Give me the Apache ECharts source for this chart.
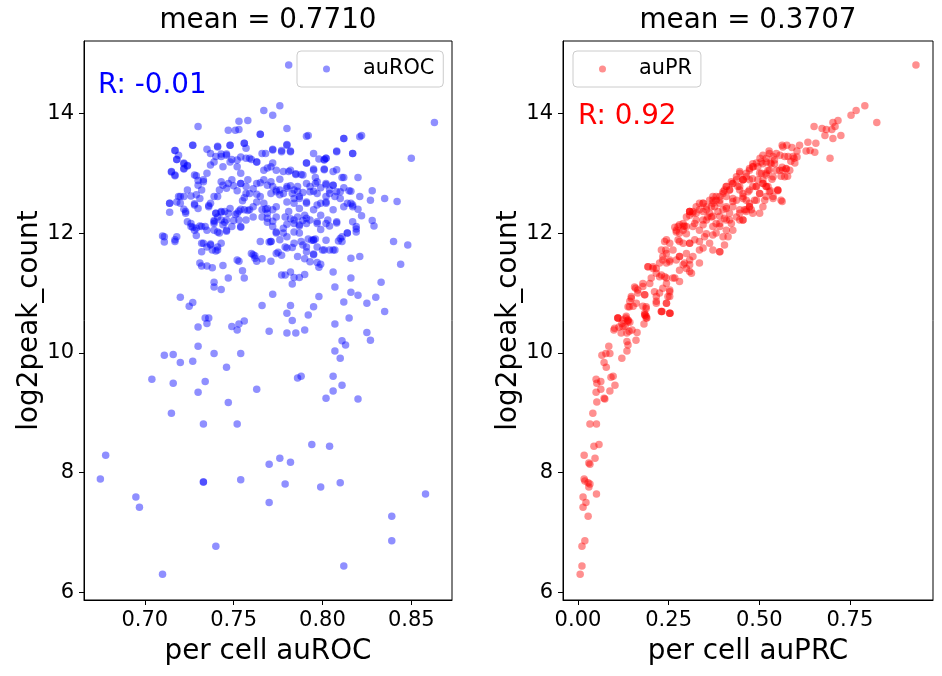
<!DOCTYPE html>
<html>
<head>
<meta charset="utf-8">
<title>auROC / auPR vs log2peak_count</title>
<script src="https://cdn.jsdelivr.net/npm/echarts@6/dist/echarts.min.js"></script>
<style>
  html, body { margin: 0; padding: 0; background: #fff; }
  #mainChart { width: 942px; height: 676px; }
</style>
</head>
<body>
<div id="mainChart"></div>
<script>
var seriesNames = ['auROC', 'auPR'];
var meanLabels = ['mean = 0.7710', 'mean = 0.3707'];
var rLabels = ['R: -0.01', 'R: 0.92'];
var xAxisNames = ['per cell auROC', 'per cell auPRC'];
var yAxisName = 'log2peak_count';

var rocTicks = [0.70, 0.75, 0.80, 0.85];
var prTicks = [0.00, 0.25, 0.50, 0.75];
var yTicks = [6, 8, 10, 12, 14];

// [auROC, log2peak_count]
var rocData = [
  [0.781,14.81],[0.863,13.85],[0.850,13.25],[0.776,14.13],[0.767,14.05],[0.772,13.97],[0.758,13.88],[0.753,13.87],
  [0.730,13.78],[0.747,13.72],[0.751,13.72],[0.753,13.73],[0.765,13.65],[0.780,13.75],[0.792,13.63],[0.812,13.58],
  [0.822,13.63],[0.727,13.47],[0.741,13.45],[0.756,13.50],[0.780,13.48],[0.717,13.38],[0.718,13.23],[0.715,13.02],
  [0.717,12.96],[0.722,13.17],[0.722,13.08],[0.724,13.13],[0.729,12.96],[0.730,12.88],[0.733,12.86],[0.735,13.40],
  [0.737,13.33],[0.740,13.28],[0.743,13.32],[0.746,13.32],[0.748,13.47],[0.749,13.23],[0.752,13.22],[0.754,13.27],
  [0.757,13.25],[0.760,13.23],[0.763,13.19],[0.766,13.33],[0.769,13.09],[0.772,13.40],[0.772,13.17],[0.777,13.36],
  [0.782,13.37],[0.776,12.90],[0.778,13.03],[0.782,13.05],[0.785,12.98],[0.788,12.98],[0.791,13.17],[0.795,13.07],
  [0.798,13.24],[0.801,13.22],[0.802,13.25],[0.808,13.37],[0.817,13.33],[0.801,13.07],[0.808,13.06],[0.812,12.93],
  [0.820,12.93],[0.796,12.93],[0.796,12.83],[0.799,12.76],[0.802,12.81],[0.806,12.80],[0.808,12.69],[0.812,12.76],
  [0.816,12.70],[0.821,12.61],[0.828,12.71],[0.835,12.58],[0.842,12.53],[0.827,12.55],[0.828,12.21],[0.829,12.12],
  [0.840,11.86],[0.848,11.80],[0.844,11.48],[0.833,11.18],[0.830,10.93],[0.825,10.83],[0.820,10.96],[0.816,11.01],
  [0.816,11.25],[0.812,10.85],[0.807,11.10],[0.806,11.35],[0.799,11.48],[0.798,11.43],[0.797,11.51],[0.793,11.52],
  [0.795,11.65],[0.790,11.57],[0.791,11.77],[0.792,11.90],[0.794,11.88],[0.796,11.90],[0.788,11.86],[0.787,12.00],
  [0.784,12.02],[0.783,11.76],[0.779,11.77],[0.777,11.63],[0.775,11.68],[0.771,11.86],[0.770,11.85],[0.771,11.53],
  [0.769,12.18],[0.772,12.20],[0.774,12.00],[0.776,11.89],[0.778,12.00],[0.780,12.15],[0.768,12.40],[0.767,12.50],
  [0.766,12.39],[0.761,12.44],[0.758,12.38],[0.754,12.40],[0.755,12.54],[0.753,12.37],[0.751,12.31],[0.747,12.33],
  [0.745,12.36],[0.743,12.35],[0.740,12.33],[0.739,12.21],[0.739,12.16],[0.739,12.05],[0.742,12.00],[0.746,12.03],
  [0.745,12.18],[0.746,12.22],[0.750,12.21],[0.754,12.10],[0.756,12.59],[0.757,12.66],[0.759,12.66],[0.763,12.65],
  [0.761,12.74],[0.765,12.84],[0.767,12.89],[0.771,12.86],[0.772,12.78],[0.774,12.69],[0.776,12.72],[0.778,12.66],
  [0.780,12.78],[0.782,12.79],[0.784,12.72],[0.786,12.70],[0.789,12.68],[0.793,12.78],[0.795,12.70],[0.797,12.66],
  [0.799,12.50],[0.802,12.50],[0.802,12.61],[0.804,12.72],[0.807,12.61],[0.810,12.58],[0.814,12.50],[0.816,12.50],
  [0.817,12.44],[0.820,12.40],[0.822,12.29],[0.819,12.11],[0.819,12.07],[0.814,12.00],[0.811,11.94],[0.809,11.87],
  [0.807,11.72],[0.804,11.72],[0.800,11.72],[0.797,11.77],[0.795,11.89],[0.790,12.30],[0.789,12.21],[0.791,12.16],
  [0.786,12.27],[0.782,12.24],[0.781,12.36],[0.784,12.50],[0.787,12.58],[0.791,12.52],[0.795,12.39],[0.799,12.30],
  [0.803,12.22],[0.808,12.17],[0.804,12.12],[0.799,12.06],[0.797,12.16],[0.793,12.22],[0.787,12.12],[0.784,12.16],
  [0.779,12.27],[0.774,12.27],[0.772,12.39],[0.769,12.33],[0.766,12.27],[0.761,12.27],[0.757,12.22],[0.753,12.22],
  [0.749,12.11],[0.744,12.14],[0.741,12.27],[0.737,12.50],[0.739,12.61],[0.742,12.72],[0.744,12.80],[0.747,12.83],
  [0.750,12.79],[0.752,12.71],[0.754,12.83],[0.757,12.78],[0.741,12.61],[0.736,12.46],[0.730,12.41],[0.728,12.49],
  [0.726,12.62],[0.722,12.61],[0.719,12.61],[0.720,12.50],[0.714,12.50],[0.714,12.35],[0.722,12.40],[0.723,12.33],
  [0.724,12.19],[0.726,12.16],[0.727,12.10],[0.728,12.05],[0.729,11.96],[0.731,12.12],[0.734,12.11],[0.735,12.05],
  [0.733,11.83],[0.735,11.77],[0.737,11.82],[0.738,11.72],[0.740,11.70],[0.741,11.77],[0.743,11.83],[0.732,11.45],
  [0.735,11.45],[0.738,11.42],[0.744,11.46],[0.747,11.25],[0.753,11.53],[0.755,11.37],[0.756,11.25],[0.760,11.66],
  [0.762,11.62],[0.763,11.53],[0.766,11.57],[0.777,11.30],[0.779,11.30],[0.782,11.35],[0.784,11.26],[0.787,11.26],
  [0.790,11.31],[0.783,11.15],[0.772,10.98],[0.766,10.79],[0.782,10.79],[0.798,10.94],[0.795,10.77],[0.739,11.18],
  [0.739,11.10],[0.743,11.06],[0.720,10.93],[0.725,10.78],[0.727,10.84],[0.710,11.95],[0.711,11.85],[0.717,11.86],
  [0.718,11.94],
  [0.727,13.47],[0.717,13.38],[0.719,13.30],[0.718,13.23],[0.722,13.16],[0.724,13.12],[0.722,13.07],[0.715,13.03],
  [0.717,12.97],[0.728,12.97],[0.735,13.00],[0.737,13.14],[0.739,13.19],[0.741,13.44],[0.748,13.47],[0.746,13.30],
  [0.743,13.28],[0.744,13.11],[0.748,13.19],[0.752,13.11],[0.754,13.00],[0.756,13.50],[0.757,13.42],[0.759,13.25],
  [0.763,13.19],[0.765,13.65],[0.768,13.33],[0.772,13.39],[0.780,13.47],[0.782,13.36],[0.777,13.38],[0.767,13.05],
  [0.771,13.11],[0.774,13.05],[0.781,13.03],[0.785,12.99],[0.789,12.97],[0.791,13.17],[0.795,13.33],[0.801,13.23],
  [0.802,13.25],[0.808,13.36],[0.817,13.33],[0.812,13.58],[0.791,13.62],[0.821,13.61],[0.795,13.05],[0.801,13.06],
  [0.806,13.03],[0.811,12.93],[0.806,12.80],[0.802,12.83],[0.797,12.86],[0.791,12.83],[0.786,12.78],[0.780,12.75],
  [0.774,12.72],[0.769,12.80],[0.763,12.83],[0.758,12.89],[0.754,12.83],[0.749,12.89],[0.746,12.75],[0.743,12.86],
  [0.733,12.89],[0.730,12.80],[0.732,12.72],[0.729,12.64],[0.724,12.72],[0.720,12.61],[0.765,12.61],[0.771,12.66],
  [0.776,12.64],[0.783,12.66],[0.787,12.61],[0.793,12.69],[0.804,12.66],[0.810,12.69],[0.815,12.71],
  [0.714,12.50],[0.718,12.52],[0.723,12.36],[0.728,12.47],[0.731,12.58],[0.736,12.44],[0.740,12.33],[0.743,12.36],
  [0.748,12.41],[0.752,12.33],[0.756,12.39],[0.759,12.39],[0.763,12.52],[0.769,12.41],[0.774,12.44],[0.780,12.52],
  [0.784,12.58],[0.787,12.41],[0.791,12.50],[0.797,12.47],[0.802,12.52],[0.806,12.39],[0.812,12.44],[0.817,12.47],
  [0.726,12.11],[0.729,12.08],[0.732,12.11],[0.739,12.19],[0.743,12.22],[0.741,12.02],[0.746,12.05],[0.754,12.11],
  [0.769,12.25],[0.772,12.11],[0.778,12.08],[0.784,12.22],[0.787,12.14],[0.791,12.25],[0.797,12.19],[0.802,12.16],
  [0.808,12.19],[0.817,12.19],[0.819,12.02],[0.814,12.00],[0.810,11.91],[0.802,11.88],[0.795,11.88],[0.789,11.80],
  [0.784,11.83],[0.780,11.94],[0.774,12.02],[0.771,11.86],[0.765,11.86],[0.711,11.94],[0.717,11.89],[0.732,11.83],
  [0.737,11.80],[0.741,11.72],[0.732,11.69],[0.761,11.64],[0.762,11.58],[0.774,11.66],[0.780,11.75],[0.786,11.61],
  [0.791,11.69],[0.795,11.64],[0.801,11.72],[0.806,11.72],[0.811,11.86],[0.816,11.58],[0.821,11.61],[0.752,11.55],
  [0.731,11.50],
  [0.835,10.69],[0.815,10.58],[0.807,10.48],[0.792,10.63],[0.780,10.66],[0.783,10.54],[0.770,10.36],[0.780,10.33],
  [0.785,10.33],[0.790,10.38],[0.756,10.53],[0.753,10.48],[0.752,10.38],[0.749,10.44],[0.734,10.58],[0.736,10.58],
  [0.735,10.49],[0.730,10.43],[0.730,10.11],[0.711,9.96],[0.716,9.97],[0.720,9.84],[0.727,9.86],[0.739,9.99],
  [0.754,9.99],[0.746,9.76],[0.825,10.34],[0.827,10.21],[0.811,10.20],[0.813,10.13],[0.807,10.03],[0.810,9.91],
  [0.704,9.56],[0.716,9.49],[0.734,9.52],[0.730,9.34],[0.763,9.39],[0.747,9.17],[0.715,8.99],[0.733,8.81],
  [0.752,8.81],[0.786,9.58],[0.788,9.61],[0.806,9.61],[0.811,9.46],[0.806,9.36],[0.802,9.24],[0.820,9.23],
  [0.794,8.47],[0.804,8.44],[0.776,8.24],[0.782,8.17],[0.770,8.14],[0.678,8.29],[0.675,7.89],[0.733,7.84],
  [0.733,7.84],[0.754,7.88],[0.779,7.81],[0.799,7.76],[0.810,7.83],[0.858,7.64],[0.695,7.59],[0.697,7.42],
  [0.770,7.50],[0.839,7.27],[0.839,6.86],[0.740,6.77],[0.812,6.44],[0.710,6.30]
];

// [auPRC, log2peak_count]
var prData = [
  [0.932,14.81],[0.791,14.13],[0.767,14.05],[0.753,13.97],[0.824,13.85],[0.717,13.88],[0.703,13.85],[0.709,13.78],
  [0.700,13.73],[0.685,13.73],[0.673,13.75],[0.651,13.78],[0.681,13.63],[0.725,13.63],[0.703,13.58],[0.695,13.25],
  [0.656,13.50],[0.653,13.35],[0.640,13.38],[0.629,13.37],[0.634,13.52],[0.611,13.47],[0.604,13.37],[0.590,13.43],
  [0.576,13.47],[0.563,13.47],[0.596,13.25],[0.604,13.27],[0.598,13.17],[0.587,13.20],[0.579,13.28],[0.557,13.30],
  [0.563,13.10],[0.574,13.07],[0.578,12.95],[0.560,12.95],[0.551,12.71],[0.531,12.71],[0.538,12.61],[0.563,12.53],
  [0.527,13.37],[0.510,13.30],[0.502,13.25],[0.519,13.19],[0.530,13.17],[0.542,13.22],[0.547,13.05],[0.519,13.00],
  [0.506,13.00],[0.492,13.17],[0.483,13.11],[0.473,13.05],[0.464,12.94],[0.481,12.91],[0.496,12.89],[0.510,12.83],
  [0.524,12.78],[0.535,12.90],[0.501,12.66],[0.492,12.55],[0.473,12.50],[0.455,12.58],[0.446,12.78],[0.455,12.89],
  [0.437,12.94],[0.427,12.83],[0.418,12.72],[0.409,12.78],[0.400,12.66],[0.391,12.50],[0.381,12.61],[0.372,12.55],
  [0.368,12.44],[0.386,12.36],[0.409,12.44],[0.427,12.53],[0.446,12.39],[0.464,12.36],[0.478,12.39],[0.455,12.22],
  [0.437,12.27],[0.423,12.16],[0.404,12.25],[0.391,12.11],[0.409,12.05],[0.400,11.94],[0.381,12.00],[0.372,12.11],
  [0.358,12.27],[0.345,12.36],[0.335,12.50],[0.317,12.36],[0.308,12.30],[0.322,12.16],[0.335,12.05],[0.349,11.94],
  [0.363,11.83],[0.372,11.72],[0.391,11.69],[0.414,11.94],[0.427,12.05],[0.299,12.11],[0.290,12.05],[0.280,12.00],
  [0.271,12.05],[0.276,11.89],[0.290,11.83],[0.308,11.83],[0.322,11.89],[0.335,11.72],[0.345,11.75],[0.262,11.72],
  [0.271,11.55],[0.280,11.61],[0.294,11.50],[0.308,11.55],[0.313,11.33],[0.299,11.41],[0.244,11.89],[0.242,11.72],
  [0.234,11.61],[0.244,11.50],[0.253,11.55],[0.225,11.50],[0.216,11.41],[0.207,11.44],[0.193,11.44],[0.225,11.27],
  [0.239,11.27],[0.244,11.16],[0.267,11.25],[0.253,11.05],[0.253,10.94],[0.234,11.08],[0.225,11.00],[0.216,10.83],
  [0.244,10.83],[0.230,10.69],[0.253,10.66],[0.198,11.16],[0.179,11.11],[0.159,11.08],[0.165,11.00],[0.184,10.97],
  [0.188,10.77],[0.184,10.66],[0.188,10.61],[0.161,10.83],[0.142,10.77],[0.147,10.91],[0.133,10.61],[0.110,10.58],
  [0.138,10.55],
  [0.593,13.28],[0.584,13.05],[0.565,13.05],[0.570,12.94],[0.551,12.72],[0.538,12.58],[0.528,12.69],[0.519,12.78],
  [0.515,12.55],[0.501,12.66],[0.510,12.89],[0.519,12.97],[0.528,13.05],[0.533,13.16],[0.538,13.28],[0.547,13.33],
  [0.519,13.25],[0.510,13.16],[0.496,13.11],[0.482,13.16],[0.473,13.08],[0.464,13.00],[0.455,12.89],[0.446,13.03],
  [0.437,12.89],[0.427,12.83],[0.418,12.72],[0.409,12.61],[0.400,12.69],[0.391,12.61],[0.381,12.55],[0.372,12.50],
  [0.363,12.55],[0.354,12.44],[0.345,12.50],[0.335,12.39],[0.326,12.44],[0.317,12.33],[0.308,12.36],[0.299,12.27],
  [0.290,12.16],[0.276,12.11],[0.446,12.72],[0.455,12.66],[0.464,12.55],[0.473,12.44],[0.482,12.33],[0.492,12.78],
  [0.473,12.72],[0.437,12.55],[0.427,12.44],[0.418,12.33],[0.409,12.22],[0.400,12.39],[0.391,12.28],[0.381,12.16],
  [0.372,12.28],[0.363,12.33],[0.354,12.22],[0.345,12.14],[0.446,12.33],[0.455,12.22],[0.464,12.39],
  [0.267,12.10],[0.280,12.14],[0.294,12.12],[0.308,12.36],[0.326,12.22],[0.345,12.50],[0.354,12.39],[0.368,12.27],
  [0.377,12.44],[0.372,12.61],[0.391,12.55],[0.404,12.72],[0.409,12.41],[0.418,12.22],[0.427,12.58],[0.423,12.86],
  [0.441,12.78],[0.446,13.00],[0.455,12.61],[0.459,12.39],[0.469,12.69],[0.473,12.89],[0.482,13.11],[0.487,12.55],
  [0.491,12.78],[0.501,13.00],[0.505,13.19],[0.510,12.83],[0.519,12.61],[0.524,13.05],[0.528,13.33],[0.538,12.94],
  [0.542,13.16],[0.551,12.72],[0.556,13.05],[0.560,12.55],[0.565,13.44],[0.570,13.28],[0.574,13.08],[0.501,12.33],
  [0.446,12.22],[0.391,12.16],[0.345,12.22],[0.317,12.11],[0.473,12.44],[0.510,12.44],[0.409,12.78],[0.455,12.89],
  [0.482,12.78],[0.519,12.78],
  [0.308,12.36],[0.326,12.33],[0.290,12.11],[0.271,12.02],[0.299,11.99],[0.280,11.86],[0.308,11.83],[0.335,11.86],
  [0.354,11.99],[0.372,11.97],[0.391,11.69],[0.404,11.80],[0.239,11.86],[0.253,11.83],[0.230,11.72],[0.244,11.66],
  [0.234,11.55],[0.253,11.52],[0.280,11.61],[0.299,11.66],[0.317,11.61],[0.290,11.47],[0.308,11.47],[0.335,11.50],
  [0.308,11.36],[0.280,11.38],[0.193,11.44],[0.207,11.41],[0.216,11.33],[0.202,11.25],[0.230,11.30],[0.244,11.25],
  [0.262,11.25],[0.280,11.19],[0.179,11.16],[0.156,11.10],[0.165,11.05],[0.184,10.97],[0.211,11.02],[0.216,10.94],
  [0.248,10.94],[0.253,11.02],[0.147,10.94],[0.143,10.86],[0.138,10.77],[0.152,10.78],[0.179,10.78],[0.188,10.74],
  [0.216,10.86],[0.244,10.83],[0.230,10.69],[0.253,10.66],[0.184,10.63],[0.188,10.58],[0.110,10.58],[0.124,10.55],
  [0.138,10.52],[0.124,10.44],[0.101,10.41],
  [0.232,10.69],[0.254,10.66],[0.185,10.63],[0.190,10.58],[0.182,10.48],[0.163,10.34],[0.160,10.21],[0.110,10.58],
  [0.121,10.49],[0.132,10.58],[0.138,10.54],[0.143,10.51],[0.130,10.44],[0.119,10.33],[0.099,10.38],[0.113,10.43],
  [0.135,10.33],[0.141,10.36],[0.149,10.38],[0.135,10.19],[0.138,10.13],[0.135,10.03],[0.085,10.11],[0.088,9.99],
  [0.077,9.99],[0.066,9.96],[0.072,9.84],[0.078,9.76],[0.121,9.91],[0.050,9.56],[0.052,9.49],[0.063,9.52],
  [0.050,9.34],[0.063,9.39],[0.088,9.36],[0.091,9.59],[0.097,9.61],[0.102,9.46],[0.072,9.24],[0.074,9.23],
  [0.052,9.18],[0.041,8.99],[0.033,8.81],[0.051,8.81],[0.044,8.44],[0.058,8.47],[0.017,8.29],[0.047,8.24],
  [0.030,8.16],[0.033,8.14],[0.017,7.89],[0.019,7.86],[0.028,7.83],[0.033,7.81],[0.030,7.76],[0.051,7.64],
  [0.014,7.59],[0.022,7.50],[0.014,7.42],[0.028,7.27],[0.019,6.86],[0.011,6.77],[0.011,6.44],[0.006,6.30]
];

var FONT = 'DejaVu Sans';

function xAxisFor(gridIndex, name, ticks, min, max) {
  return {
    type: 'value',
    gridIndex: gridIndex,
    min: min,
    max: max,
    name: name,
    nameLocation: 'middle',
    nameGap: 38,
    nameTextStyle: { fontFamily: FONT, fontSize: 27.8, color: '#000' },
    axisLine: { show: true, onZero: false, lineStyle: { color: '#000', width: 1 } },
    axisTick: { show: true, length: 5, customValues: ticks, lineStyle: { color: '#000', width: 1 } },
    axisLabel: {
      customValues: ticks,
      margin: 10,
      fontFamily: FONT,
      fontSize: 21,
      color: '#000',
      formatter: function (v) { return v.toFixed(2); }
    },
    splitLine: { show: false }
  };
}

function yAxisFor(gridIndex) {
  return {
    type: 'value',
    gridIndex: gridIndex,
    min: 5.87,
    max: 15.21,
    name: yAxisName,
    nameLocation: 'middle',
    nameGap: 37,
    nameTextStyle: { fontFamily: FONT, fontSize: 27.8, color: '#000' },
    axisLine: { show: true, onZero: false, lineStyle: { color: '#000', width: 1 } },
    axisTick: { show: true, length: 5, customValues: yTicks, lineStyle: { color: '#000', width: 1 } },
    axisLabel: {
      customValues: yTicks,
      margin: 10,
      fontFamily: FONT,
      fontSize: 21,
      color: '#000',
      formatter: function (v) { return String(v); }
    },
    splitLine: { show: false }
  };
}

function legendFor(name, left) {
  return {
    data: [name],
    left: left,
    top: 51,
    orient: 'vertical',
    selectedMode: false,
    padding: [7, 9, 7, 26],
    itemWidth: 7,
    itemHeight: 7,
    backgroundColor: 'rgba(255,255,255,0.8)',
    borderColor: '#cccccc',
    borderWidth: 1,
    borderRadius: 4,
    formatter: function (n) { return '{gap|}' + n; },
    textStyle: {
      fontFamily: FONT, fontSize: 20.8, lineHeight: 22, color: '#000',
      rich: { gap: { width: 28 } }
    }
  };
}

function chartInit() {
  var myChart = echarts.init(document.getElementById('mainChart'), null, { renderer: 'canvas' });

  var option = {
    animation: false,
    backgroundColor: '#fff',
    grid: [
      { left: 84, top: 41, width: 368, height: 559, show: true, borderColor: '#000', borderWidth: 1, backgroundColor: 'transparent' },
      { left: 563, top: 41, width: 370, height: 559, show: true, borderColor: '#000', borderWidth: 1, backgroundColor: 'transparent' }
    ],
    xAxis: [
      xAxisFor(0, xAxisNames[0], rocTicks, 0.6658, 0.8729),
      xAxisFor(1, xAxisNames[1], prTicks, -0.0413, 0.979)
    ],
    yAxis: [yAxisFor(0), yAxisFor(1)],
    legend: [legendFor(seriesNames[0], 297), legendFor(seriesNames[1], 573)],
    graphic: [
      { type: 'text', x: 268, y: 21, style: { text: meanLabels[0], font: '27.8px "DejaVu Sans"', fill: '#000', textAlign: 'center', textVerticalAlign: 'middle' } },
      { type: 'text', x: 748, y: 21, style: { text: meanLabels[1], font: '27.8px "DejaVu Sans"', fill: '#000', textAlign: 'center', textVerticalAlign: 'middle' } },
      { type: 'text', x: 98, y: 86, style: { text: rLabels[0], font: '27.8px "DejaVu Sans"', fill: '#0000ff', textAlign: 'left', textVerticalAlign: 'middle' } },
      { type: 'text', x: 578, y: 117, style: { text: rLabels[1], font: '27.8px "DejaVu Sans"', fill: '#ff0000', textAlign: 'left', textVerticalAlign: 'middle' } }
    ],
    series: [
      {
        name: seriesNames[0],
        type: 'scatter',
        xAxisIndex: 0,
        yAxisIndex: 0,
        symbol: 'circle',
        symbolSize: 7.5,
        itemStyle: { color: 'rgba(0,0,255,0.55)' },
        emphasis: { disabled: true },
        data: rocData
      },
      {
        name: seriesNames[1],
        type: 'scatter',
        xAxisIndex: 1,
        yAxisIndex: 1,
        symbol: 'circle',
        symbolSize: 7.5,
        itemStyle: { color: 'rgba(255,0,0,0.55)' },
        emphasis: { disabled: true },
        data: prData
      }
    ]
  };
  myChart.setOption(option);
}

chartInit();
</script>
</body>
</html>
